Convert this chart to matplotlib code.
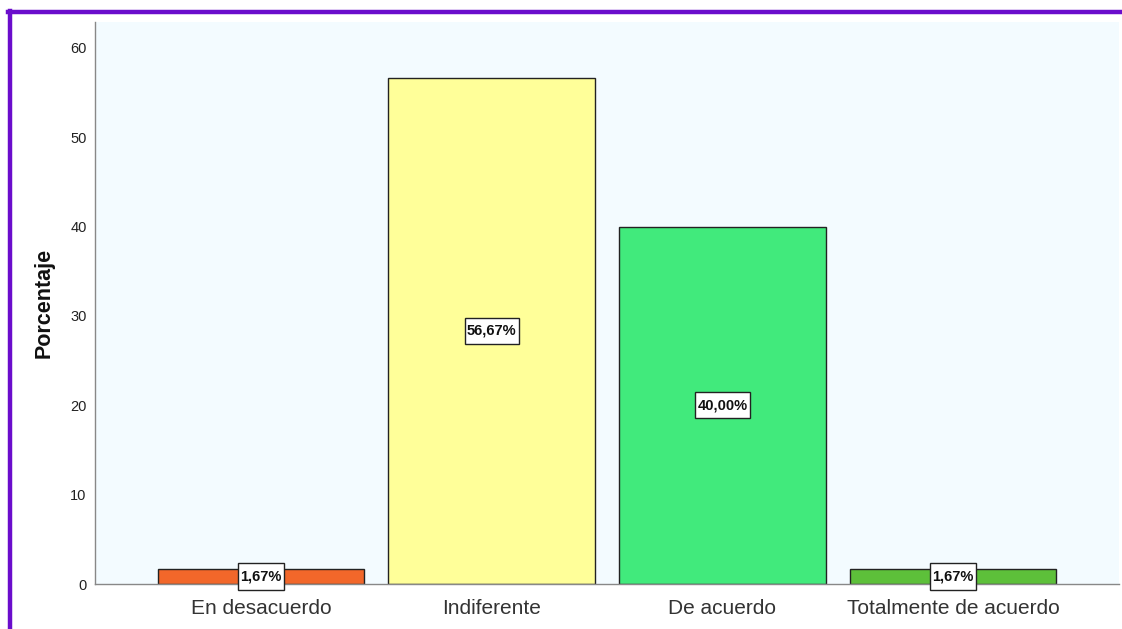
import matplotlib
matplotlib.use("Agg")
import matplotlib.pyplot as plt
from matplotlib.lines import Line2D
from matplotlib.path import Path

categories = ["En desacuerdo", "Indiferente", "De acuerdo", "Totalmente de acuerdo"]
values = [1.67, 56.67, 40.00, 1.67]
labels = ["1,67%", "56,67%", "40,00%", "1,67%"]
colors = ["#F2672A", "#FFFF99", "#41EA7C", "#5DC03A"]
yticks = [0, 10, 20, 30, 40, 50, 60]

plt.rcParams['font.family'] = ['Liberation Sans', 'DejaVu Sans']

def tallbox(x0, y0, width, height, mutation_size):
    padx = 0.16 * mutation_size
    pady = 0.42 * mutation_size
    x1, y1 = x0 - padx, y0 - pady
    x2, y2 = x0 + width + padx, y0 + height + pady
    return Path([(x1, y1), (x2, y1), (x2, y2), (x1, y2), (x1, y1)], closed=True)

fig = plt.figure(figsize=(11.22, 6.29), dpi=100)
W, H = 1122, 629
ax = fig.add_axes([95 / W, 1 - 584 / H, (1119 - 95) / W, (584 - 22) / H])
ax.set_facecolor("#F3FBFF")

x = list(range(len(categories)))
ax.bar(x, values, width=0.896, color=colors, edgecolor="#222222", linewidth=1.0, zorder=2)
for xi, v, lab in zip(x, values, labels):
    ax.text(xi, v / 2, lab, ha="center", va="center", fontsize=10.5, fontweight="bold",
            color="#111111",
            bbox=dict(boxstyle=tallbox, facecolor="white", edgecolor="#222222", linewidth=1.0),
            zorder=3)

ax.set_xlim(-0.72, 3.72)
ax.set_ylim(0, 62.9)
ax.set_yticks(yticks)
ax.set_yticklabels([str(t) for t in yticks], fontsize=10.5, color="#222222")
ax.set_xticks(x)
ax.set_xticklabels(categories, fontsize=15, color="#333333")
ax.tick_params(axis="both", length=0, pad=6)
ax.tick_params(axis="x", pad=10.5)
for s in ["top", "right"]:
    ax.spines[s].set_visible(False)
for s in ["left", "bottom"]:
    ax.spines[s].set_color("#888888")
    ax.spines[s].set_linewidth(1.0)
ax.set_ylabel("Porcentaje", fontsize=15.5, fontweight="bold", color="#111111", labelpad=11)

# purple frame
fig.add_artist(Line2D([8 / W, 1.0], [1 - 12 / H, 1 - 12 / H], transform=fig.transFigure,
                      color="#6A0DCC", linewidth=3.2))
fig.add_artist(Line2D([9.5 / W, 9.5 / W], [1 - 11 / H, 0], transform=fig.transFigure,
                      color="#6A0DCC", linewidth=3.2))

fig.savefig("out.png", dpi=100)
